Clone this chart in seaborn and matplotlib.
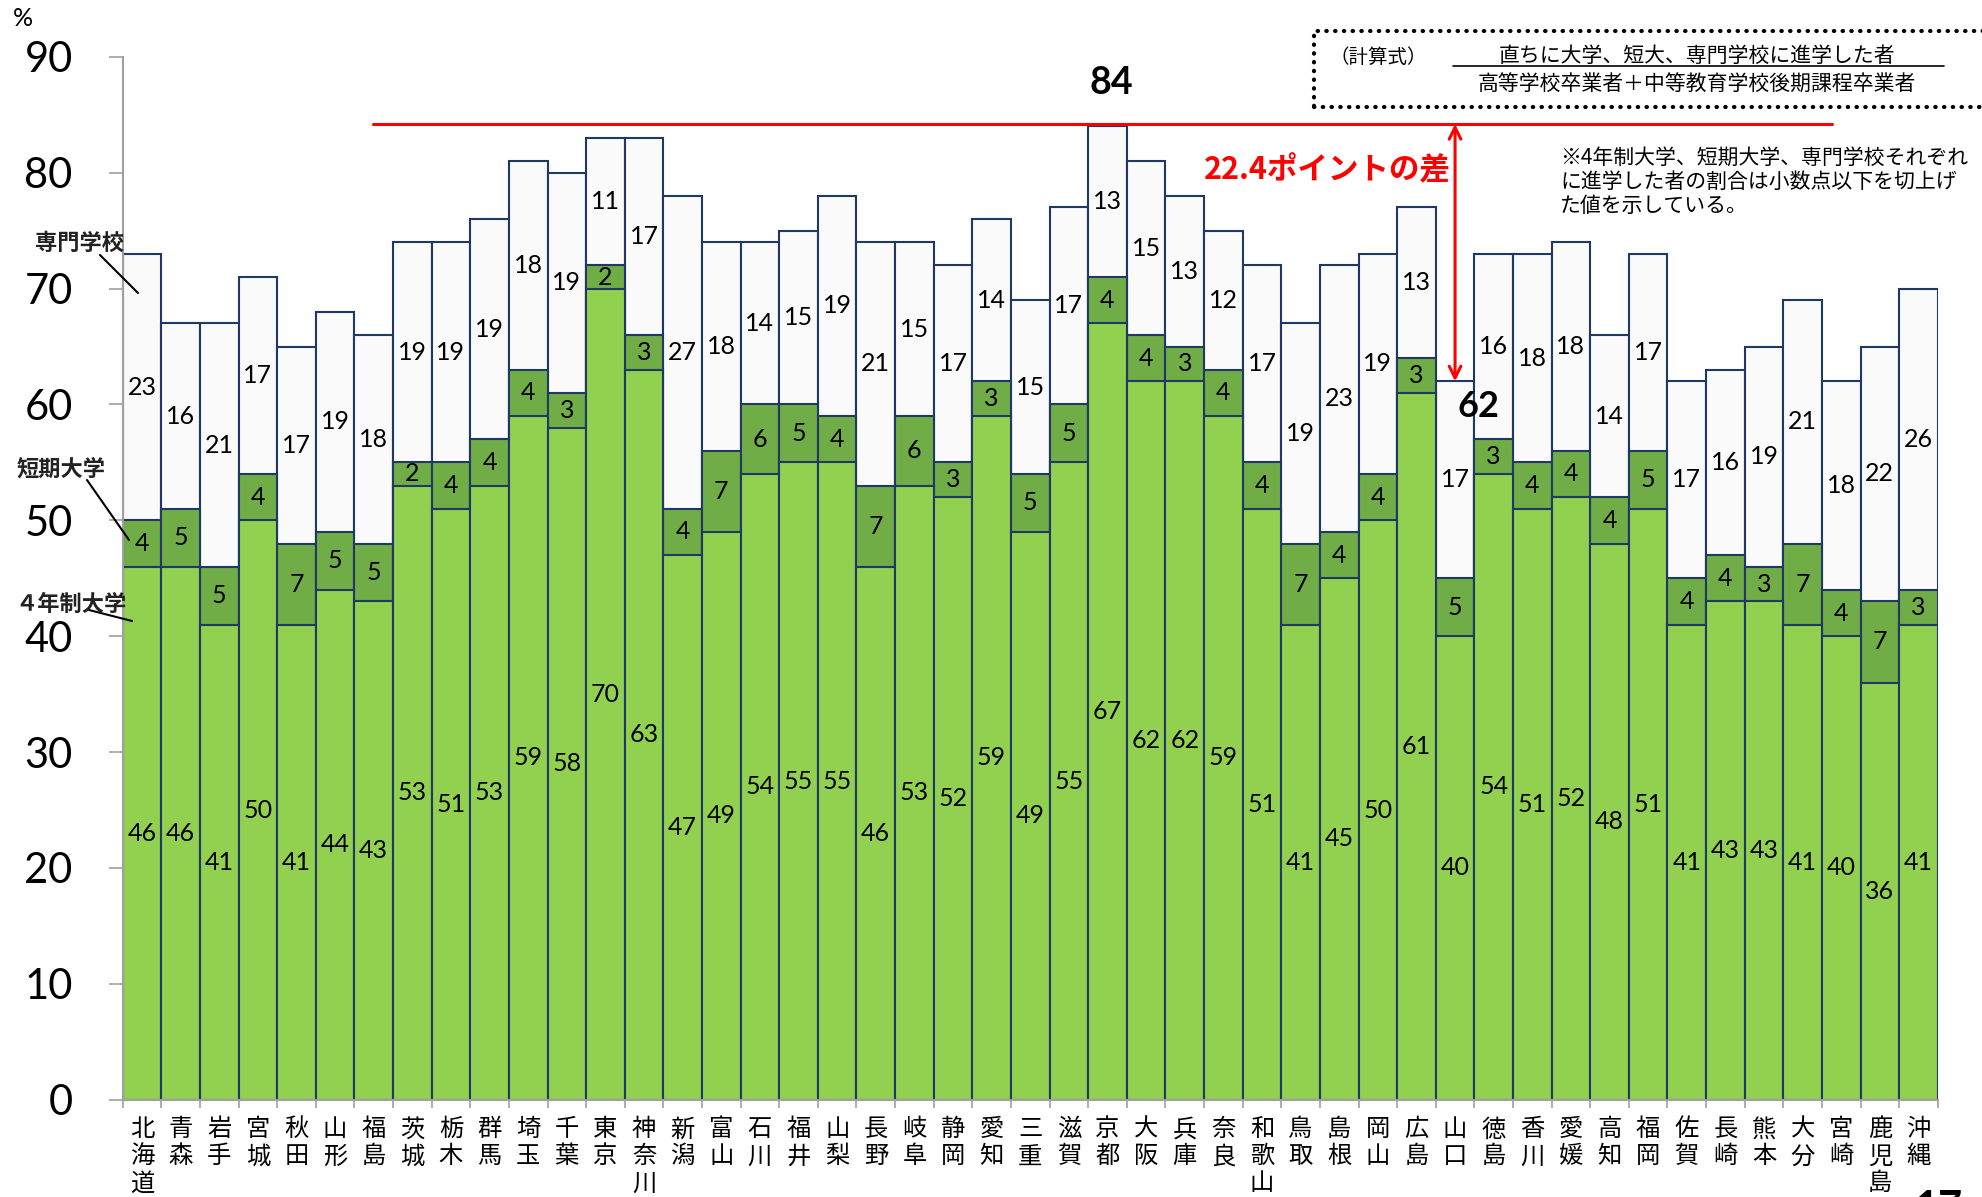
import matplotlib
matplotlib.use("Agg")
import matplotlib.pyplot as plt
from matplotlib import font_manager
from matplotlib.lines import Line2D
from matplotlib.patches import Rectangle
import pandas as pd
import seaborn as sns

# 都道府県別 大学・短大・専門学校への進学率（%）
prefs = ["北海道", "青森", "岩手", "宮城", "秋田", "山形", "福島", "茨城", "栃木", "群馬",
         "埼玉", "千葉", "東京", "神奈川", "新潟", "富山", "石川", "福井", "山梨", "長野",
         "岐阜", "静岡", "愛知", "三重", "滋賀", "京都", "大阪", "兵庫", "奈良", "和歌山",
         "鳥取", "島根", "岡山", "広島", "山口", "徳島", "香川", "愛媛", "高知", "福岡",
         "佐賀", "長崎", "熊本", "大分", "宮崎", "鹿児島", "沖縄"]
univ = [46, 46, 41, 50, 41, 44, 43, 53, 51, 53, 59, 58, 70, 63, 47, 49, 54, 55, 55, 46,
        53, 52, 59, 49, 55, 67, 62, 62, 59, 51, 41, 45, 50, 61, 40, 54, 51, 52, 48, 51,
        41, 43, 43, 41, 40, 36, 41]
junior = [4, 5, 5, 4, 7, 5, 5, 2, 4, 4, 4, 3, 2, 3, 4, 7, 6, 5, 4, 7,
          6, 3, 3, 5, 5, 4, 4, 3, 4, 4, 7, 4, 4, 3, 5, 3, 4, 4, 4, 5,
          4, 4, 3, 7, 4, 7, 3]
senmon = [23, 16, 21, 17, 17, 19, 18, 19, 19, 19, 18, 19, 11, 17, 27, 18, 14, 15, 19, 21,
          15, 17, 14, 15, 17, 13, 15, 13, 12, 17, 19, 23, 19, 13, 17, 16, 18, 18, 14, 17,
          17, 16, 19, 21, 18, 22, 26]

df = pd.DataFrame({"pref": prefs, "univ": univ, "junior": junior, "senmon": senmon})
df["upto_junior"] = df["univ"] + df["junior"]
df["total"] = df["upto_junior"] + df["senmon"]

names = {f.name for f in font_manager.fontManager.ttflist}
num_font = "Lato" if "Lato" in names else "DejaVu Sans"
JP = ["Noto Sans CJK JP", "DejaVu Sans"]

sns.set_theme(style="white")
plt.rcParams["font.family"] = [num_font, "Noto Sans CJK JP", "DejaVu Sans"]
plt.rcParams["text.color"] = "black"
plt.rcParams["xtick.labelcolor"] = "black"
plt.rcParams["ytick.labelcolor"] = "black"

W, H = 1982, 1197
fig = plt.figure(figsize=(W / 100, H / 100), dpi=100)
ax = fig.add_axes([0.0619, 0.0813, 0.9158, 0.8712])


def fx(px):
    return px / W


def fy(py):
    return 1 - py / H


edge = "#1F3864"
# 累積の高さを重ねて描く（白→濃い緑→薄い緑）
for col, colr in [("total", "#FAFAFA"), ("upto_junior", "#70AD47"), ("univ", "#92D050")]:
    sns.barplot(data=df, x="pref", y=col, order=prefs, color=colr, saturation=1,
                edgecolor=edge, linewidth=1.5, width=1.0, errorbar=None, ax=ax)

for i in range(len(prefs)):
    ax.text(i, univ[i] / 2, str(univ[i]), ha="center", va="center", fontsize=18)
    ax.text(i, univ[i] + junior[i] / 2, str(junior[i]), ha="center", va="center", fontsize=18)
    ax.text(i, df["upto_junior"][i] + senmon[i] / 2, str(senmon[i]),
            ha="center", va="center", fontsize=18)

ax.set_xlim(-0.5, len(prefs) - 0.5)
ax.set_ylim(0, 90)
ax.set_yticks(range(0, 91, 10))
ax.set_xlabel("")
ax.set_ylabel("")
for s in ["top", "right"]:
    ax.spines[s].set_visible(False)
for s in ["left", "bottom"]:
    ax.spines[s].set_color("#A0A0A0")
    ax.spines[s].set_linewidth(1.5)

ax.tick_params(axis="y", left=True, length=10, width=1.2, color="#A0A0A0",
               pad=26, labelsize=30)
ax.set_xticks(range(len(prefs)))
ax.set_xticklabels(["\n".join(p) for p in prefs], family=JP, fontsize=17.5, linespacing=1.05)
ax.set_xticks([i - 0.5 for i in range(len(prefs) + 1)], minor=True)
ax.tick_params(axis="x", which="major", length=0, pad=12)
ax.tick_params(axis="x", which="minor", bottom=True, length=6, width=1.2, color="#A0A0A0")

# 最大・最小の差
top = df["total"].max()
low = df["total"].min()
ax.plot([5.99, 43.76], [top + 0.2, top + 0.2], color="red", lw=2.2, clip_on=False)
ax.annotate("", xy=(34, low), xytext=(34, top + 0.2),
            arrowprops=dict(arrowstyle="<->,head_length=0.7,head_width=0.35",
                            color="red", lw=2.2, shrinkA=0, shrinkB=0))
ax.text(25.1, 87.75, str(top), ha="center", va="center", fontsize=27, fontweight="bold")
ax.text(34.6, 59.8, str(low), ha="center", va="center", fontsize=26, fontweight="bold")
ax.text(33.9, 80.2, "22.4ポイントの差", ha="right", va="center", color="red",
        fontsize=22, fontweight="bold", family=JP)

# 計算式の枠
fig.add_artist(Rectangle((fx(1314), fy(107)), fx(700), (107 - 31) / H,
                         transform=fig.transFigure, fill=False, edgecolor="black",
                         linestyle=(0, (0.1, 2.0)), lw=3, capstyle="round"))
fig.text(fx(1378), fy(57), "（計算式）", ha="center", va="center", fontsize=14, family=JP)
fig.text(fx(1697), fy(56), "直ちに大学、短大、専門学校に進学した者", ha="center", va="center",
         fontsize=15, family=JP)
fig.add_artist(Line2D([fx(1453), fx(1944)], [fy(66), fy(66)], transform=fig.transFigure,
                      color="black", lw=1.2))
fig.text(fx(1697), fy(85), "高等学校卒業者＋中等教育学校後期課程卒業者", ha="center", va="center",
         fontsize=15, family=JP)

note = ["※4年制大学、短期大学、専門学校それぞれ",
        "に進学した者の割合は小数点以下を切上げ",
        "た値を示している。"]
for k, line in enumerate(note):
    fig.text(fx(1560), fy(158 + 24 * k), line, ha="left", va="center", fontsize=15, family=JP)

# 凡例の代わりの注記
fig.text(fx(23), fy(19), "%", ha="center", va="center", fontsize=18)
for label, tx, ty, p0, p1 in [("専門学校", 79, 243, (100, 255), (138, 293)),
                              ("短期大学", 61, 469, (87, 480), (129, 540)),
                              ("４年制大学", 71, 604, (89, 610), (132, 621))]:
    fig.text(fx(tx), fy(ty), label, ha="center", va="center", fontsize=16,
             fontweight="bold", family=JP, color="#222222")
    fig.add_artist(Line2D([fx(p0[0]), fx(p1[0])], [fy(p0[1]), fy(p1[1])],
                          transform=fig.transFigure, color="black", lw=1.5))

fig.text(fx(1938), fy(1190), "17", ha="center", va="top", fontsize=30, fontweight="bold")

fig.savefig("out.png", dpi=100)
